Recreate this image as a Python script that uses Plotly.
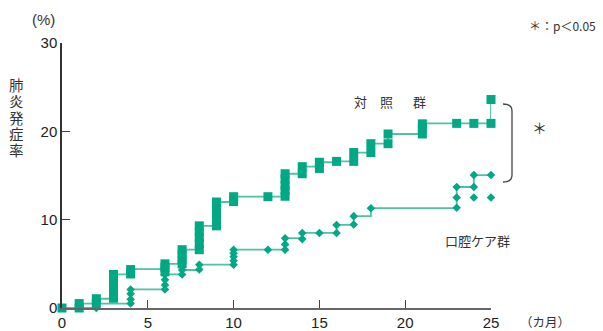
import plotly.graph_objects as go

# ---- data (cumulative pneumonia incidence, %) ----
control_times = [0, 1, 2, 3, 4, 6, 7, 8, 9, 10, 12, 13, 14, 15, 16, 17, 18, 19, 21, 23, 24, 25]
control_stacks = [
    [0.0],
    [0.0, 0.5],
    [0.45, 1.05],
    [1.1, 1.8, 2.4, 3.1, 3.8],
    [3.85, 4.35],
    [4.1, 4.6, 5.0],
    [5.0, 5.5, 6.1, 6.6],
    [6.6, 7.3, 8.0, 8.6, 9.3],
    [9.3, 10.0, 10.7, 11.3, 12.0],
    [12.05, 12.6],
    [12.6],
    [12.65, 13.3, 13.9, 14.6, 15.2],
    [15.2, 16.0],
    [15.8, 16.5],
    [16.6],
    [16.6, 17.6],
    [17.6, 18.6],
    [18.6, 19.7],
    [19.7, 20.3, 20.85],
    [20.9],
    [20.9],
    [20.9, 23.6],
]
control_line_t = [0, 1, 2, 3, 4, 6, 7, 8, 9, 10, 12, 13, 14, 15, 16, 17, 18, 19, 21, 23, 24, 25, 25]
control_line_y = [0, 0.5, 1.05, 3.8, 4.4, 5.0, 6.6, 9.3, 12.0, 12.6, 12.6, 15.2, 16.0, 16.5, 16.6,
                  17.6, 18.6, 19.7, 20.9, 20.9, 20.9, 20.9, 23.6]

care_times = [2, 4, 6, 7, 8, 10, 12, 13, 14, 15, 16, 17, 18, 23, 24, 25]
care_stacks = [
    [0.0, 0.5],
    [0.5, 1.0, 1.6, 2.1],
    [2.1, 2.6, 3.2, 3.8],
    [3.8, 4.3],
    [4.35, 4.9],
    [4.9, 5.35, 5.8, 6.2, 6.6],
    [6.6],
    [6.6, 7.2, 7.9],
    [7.8, 8.5],
    [8.5],
    [8.5, 9.4],
    [9.45, 10.4],
    [11.3],
    [11.35, 12.5, 13.7],
    [12.5, 13.7, 15.05],
    [12.5, 15.05],
]
care_line_t = [0, 2, 4, 6, 7, 8, 10, 12, 13, 14, 15, 16, 17, 18, 23, 24, 25]
care_line_y = [0, 0.5, 2.1, 3.8, 4.3, 4.9, 6.6, 6.6, 7.9, 8.5, 8.5, 9.4, 10.4, 11.3, 13.7, 15.05, 15.05]

x_ticks = [0, 5, 10, 15, 20, 25]
y_ticks = [0, 10, 20, 30]

GREEN = "#00a884"
LINE = "#4cc3a2"
TXT = "#333333"
FONT = "Liberation Sans, Arial, Noto Sans CJK JP, sans-serif"
JFONT = "Noto Sans CJK JP, sans-serif"

# plot area in pixels
L, R, T, B = 62, 491, 43, 308

def flatten(times, stacks):
    xs, ys = [], []
    for t, s in zip(times, stacks):
        for v in s:
            xs.append(t)
            ys.append(v)
    return xs, ys

cx, cy = flatten(control_times, control_stacks)
kx, ky = flatten(care_times, care_stacks)

fig = go.Figure()
fig.add_trace(go.Scatter(x=care_line_t, y=care_line_y, mode="lines", line=dict(color=LINE, width=1.8, shape="hv"),
                         hoverinfo="skip", cliponaxis=False))
fig.add_trace(go.Scatter(x=control_line_t, y=control_line_y, mode="lines", line=dict(color=LINE, width=1.8, shape="hv"),
                         hoverinfo="skip", cliponaxis=False))
fig.add_trace(go.Scatter(x=kx, y=ky, mode="markers", marker=dict(symbol="diamond", size=6.6, color=GREEN, line=dict(width=0)),
                         cliponaxis=False))
fig.add_trace(go.Scatter(x=cx, y=cy, mode="markers", marker=dict(symbol="square", size=9, color=GREEN, line=dict(width=0)),
                         cliponaxis=False))

def px(xp):
    return (xp - L) / (R - L)

def py(yp):
    return (B - yp) / (B - T)

# bracket (paper coordinates)
bx0, bx1 = px(503), px(512)
by0, by1, byc0, byc1 = py(104), py(182), py(111), py(175)
fig.add_shape(type="path", xref="paper", yref="paper",
              path=f"M {bx0},{by0} Q {bx1},{by0} {bx1},{byc0} L {bx1},{byc1} Q {bx1},{by1} {bx0},{by1}",
              line=dict(color="#444444", width=1.3))

annos = []
def add(text, xp, yp, size, font=JFONT, xanchor="center", **kw):
    annos.append(dict(text=text, x=px(xp), y=py(yp), xref="paper", yref="paper", showarrow=False,
                      xanchor=xanchor, yanchor="middle", font=dict(size=size, color=TXT, family=font), **kw))

add("(%)", 43, 19, 15, FONT)
for i, ch in enumerate("肺炎発症率"):
    add(ch, 16, 85 + i * 16.25, 14.5, height=15.5, borderpad=0)
add("対", 360, 102, 13)
add("照", 386, 102, 13)
add("群", 419, 102, 13)
add("口腔ケア群", 477, 240, 13)
add("＊", 539, 127, 15)
add("＊：p＜0.05", 598, 25, 12, JFONT, xanchor="right")
add("（カ月）", 545, 321, 12.5)

fig.update_layout(
    width=603, height=331,
    margin=dict(l=L, r=603 - R, t=T, b=331 - B),
    plot_bgcolor="white", paper_bgcolor="white",
    showlegend=False,
    annotations=annos,
    xaxis=dict(range=[0, 25], tickvals=x_ticks, ticks="inside", ticklen=8, tickwidth=1.3, tickcolor="#444",
               showline=True, linecolor="#666", linewidth=1.5, showgrid=False, zeroline=False, automargin=False,
               tickfont=dict(size=15, color="#222", family=FONT)),
    yaxis=dict(range=[0, 30], tickvals=y_ticks, ticks="inside", ticklen=8, tickwidth=1.3, tickcolor="#444",
               showline=True, linecolor="#333", linewidth=1.5, showgrid=False, zeroline=False, automargin=False,
               tickfont=dict(size=15, color="#222", family=FONT)),
)

fig.write_html("out.html")
